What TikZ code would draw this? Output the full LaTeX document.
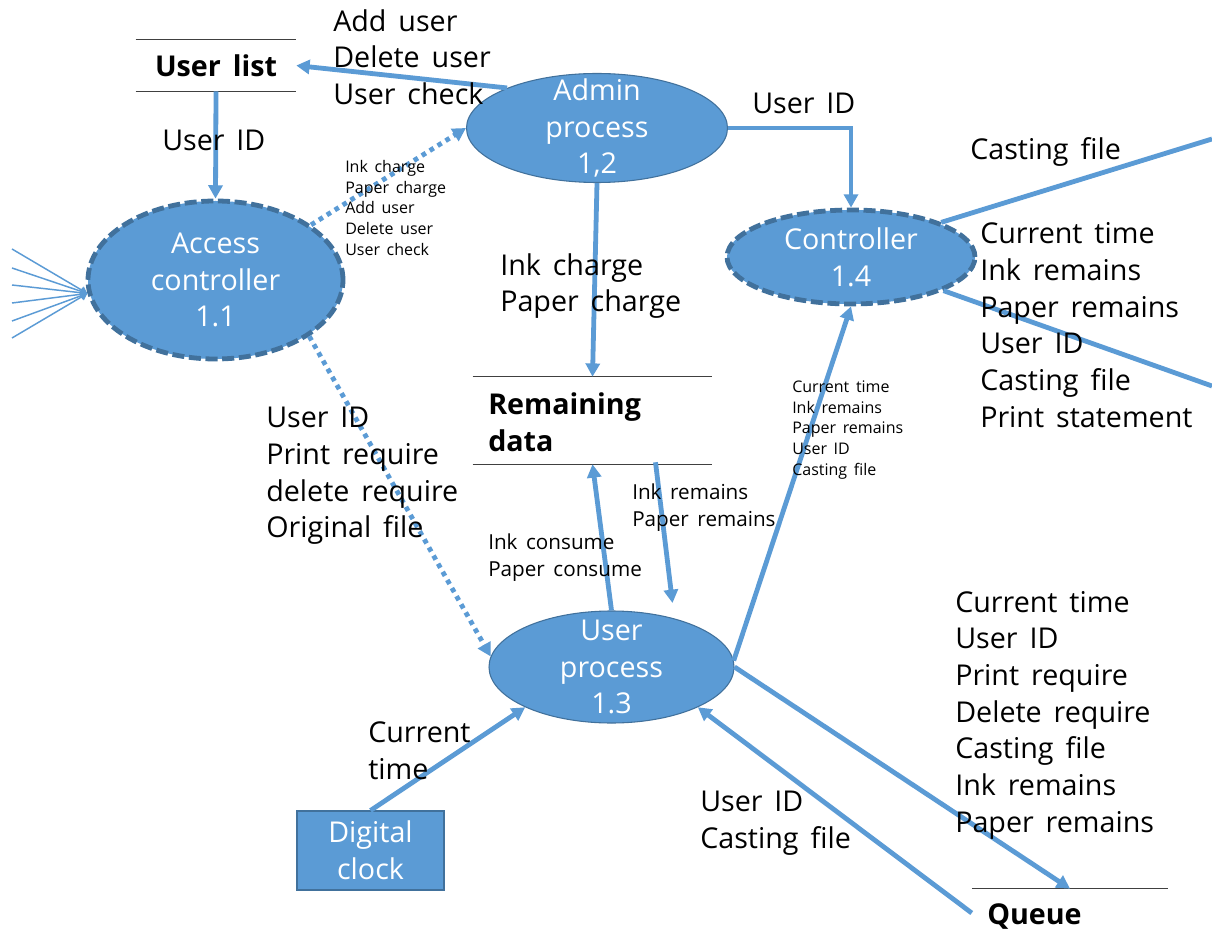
\documentclass[tikz,border=0pt]{standalone}
\usepackage{fontspec}
\setmainfont{Open Sans}[WordSpace=1.6]
\usetikzlibrary{shapes.geometric,arrows.meta,calc}
\definecolor{pblue}{HTML}{5B9BD5}
\definecolor{pedge}{HTML}{41719C}
\definecolor{storeline}{HTML}{404040}
\newcommand{\LabL}{\fontsize{21.5}{27.5}\selectfont}
\newcommand{\LabM}{\fontsize{15.5}{20.25}\selectfont}
\newcommand{\LabS}{\fontsize{12}{15.4}\selectfont}
\tikzset{
  proc/.style={ellipse, fill=pblue, draw=pedge, line width=0.8pt, inner sep=0pt},
  dproc/.style={ellipse, fill=pblue, draw=pedge, line width=3.6pt, dash pattern=on 9pt off 3.5pt, inner sep=0pt},
  ptext/.style={text=white, align=center, font=\LabL, inner sep=0pt},
  storebox/.style={inner sep=0pt},
  storeedge/.style={draw=storeline, line width=1pt},
  flow/.style={draw=pblue, line width=3.6pt, -{Triangle[length=10pt,width=10.5pt]}},
  dotflow/.style={flow, dash pattern=on 3.5pt off 3.5pt},
  plain/.style={draw=pblue, line width=3.6pt},
  fan/.style={draw=pblue, line width=1.1pt, -{Triangle[length=5pt,width=6pt]}},
  lab/.style={anchor=west, inner sep=0pt, align=left, font=\LabL},
  labm/.style={lab, font=\LabM},
  labs/.style={lab, font=\LabS},
  boldlab/.style={lab, font=\LabL\bfseries}
}
\begin{document}
\begin{tikzpicture}[x=0.75pt,y=-0.75pt]
\fill[white] (0,0) rectangle (1212,937);
\useasboundingbox (0,0) rectangle (1212,937);

% processes
\node[proc, minimum width=195.75pt, minimum height=81.75pt] (admin) at (597,128) {};
\node[dproc, minimum width=191.25pt, minimum height=118.5pt] (access) at (215.5,280) {};
\node[dproc, minimum width=186pt, minimum height=70.5pt] (ctrl) at (851,257) {};
\node[proc, minimum width=183.75pt, minimum height=84pt] (user) at (611.5,667) {};
\node[rectangle, fill=pblue, draw=pedge, line width=0.8pt, minimum width=110.25pt, minimum height=59.25pt, inner sep=0pt] (clock) at (370.5,850.5) {};

\node[ptext] at (admin) {Admin\\process\\1,2};
\node[ptext] at (access) {Access\\controller\\1.1};
\node[ptext] at (ctrl) {Controller\\1.4};
\node[ptext] at (user) {User\\process\\1.3};
\node[ptext] at (clock) {Digital\\clock};

% stores
\node[storebox, minimum width=120pt, minimum height=38.25pt, font=\LabL\bfseries] (ulist) at (216,65.5) {User list};
\node[storebox, minimum width=179.25pt, minimum height=65.25pt] (remain) at (592.5,420.5) {};
\node[storebox, minimum width=147pt, minimum height=36pt] (queue) at (1070,913) {};
\draw[storeedge] (ulist.north west) -- (ulist.north east);
\draw[storeedge] (ulist.south west) -- (ulist.south east);
\draw[storeedge] (remain.north west) -- (remain.north east);
\draw[storeedge] (remain.south west) -- (remain.south east);
\draw[storeedge] (queue.north west) -- (queue.north east);
\node[boldlab] at (488,422) {Remaining\\data};
\node[boldlab] at (987,917) {Queue};

% free ends
\coordinate (offA) at (1212,139);
\coordinate (offB) at (1212,386);
\coordinate (f1) at (12,249);
\coordinate (f2) at (12,268);
\coordinate (f3) at (12,285);
\coordinate (f4) at (12,303);
\coordinate (f5) at (12,321);
\coordinate (f6) at (12,338);

% connectors
\draw[flow] (admin.156.5) -- (ulist.east);
\draw[flow] (ulist.south) -- (access.north);
\draw[dotflow] (access.30) -- (admin.west);
\draw[dotflow] (access.-31) -- (user.175);
\draw[flow] (admin.south) -- (remain.north);
\draw[flow] (admin.east) -| (ctrl.north);
\draw[plain] (ctrl.21.5) -- (offA);
\draw[plain] (ctrl.-20.3) -- (offB);
\draw[flow] (user.north) -- (remain.south);
\draw[flow] ($(remain.south)+(63,-2)$) -- ($(user.center)+(61,-64)$);
\draw[flow] (user.3) -- (ctrl.south);
\draw[flow] (clock.north) -- (user.205);
\draw[flow] (queue.west) -- (user.-25);
\draw[flow] (user.east) -- (queue.north);
\foreach \f in {f1,f2,f3,f4,f5,f6} \draw[fan] (\f) -- (access.186);

% labels
\node[lab] at (333,57) {Add user\\Delete user\\User check};
\node[lab] at (162,140) {User ID};
\node[labs] at (345,208) {Ink charge\\Paper charge\\Add user\\Delete user\\User check};
\node[lab] at (500,286) {Ink charge\\Paper charge};
\node[lab] at (752,103) {User ID};
\node[lab] at (970,152) {Casting file};
\node[lab] at (980,325) {Current time\\Ink remains\\Paper remains\\User ID\\Casting file\\Print statement};
\node[lab] at (266,476) {User ID\\Print require\\delete require\\Original file};
\node[labm] at (632,508) {Ink remains\\Paper remains};
\node[labm] at (488,558) {Ink consume\\Paper consume};
\node[labs] at (792,430) {Current time\\Ink remains\\Paper remains\\User ID\\Casting file};
\node[lab] at (368,751) {Current\\time};
\node[lab] at (700,823) {User ID\\Casting file};
\node[lab] at (955,715) {Current time\\User ID\\Print require\\Delete require\\Casting file\\Ink remains\\Paper remains};
\end{tikzpicture}
\end{document}
